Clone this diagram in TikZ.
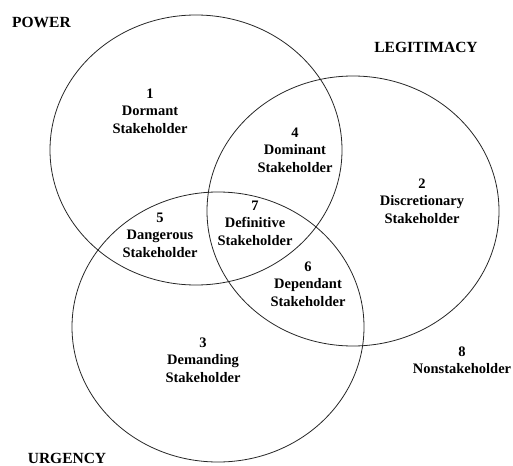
\documentclass[tikz,border=0pt]{standalone}
\usepackage{fontspec}
\setmainfont{Liberation Serif}
\usepackage{tikz}
\usetikzlibrary{shapes.geometric}

\begin{document}
\begin{tikzpicture}[x=1pt, y=-1pt,
  set/.style={draw=black!85, line width=0.8pt, ellipse, minimum width=292pt, minimum height=270pt},
  area/.style={align=center, font=\bfseries\fontsize{14.5}{17.5}\selectfont, inner sep=0pt},
  title/.style={font=\bfseries\fontsize{15.5}{17.5}\selectfont, inner sep=0pt}]
\useasboundingbox (0,0) rectangle (513,465);

% the three attribute sets
\node[set] (power)   at (196,150) {};
\node[set] (legit)   at (353,211) {};
\node[set] (urgency) at (218,327) {};

\node[title, anchor=west] (powerlbl)   at (12,22)  {POWER};
\node[title]              (legitlbl)   at (426,47) {LEGITIMACY};
\node[title]              (urgencylbl) at (67,458) {URGENCY};

% stakeholder classes
\node[area] (dormant)       at (150,111) {1\\Dormant\\Stakeholder};
\node[area] (discretionary) at (422,201) {2\\Discretionary\\Stakeholder};
\node[area] (demanding)     at (203,360) {3\\Demanding\\Stakeholder};
\node[area] (dominant)      at (295,150) {4\\Dominant\\Stakeholder};
\node[area] (dangerous)     at (160,235) {5\\Dangerous\\Stakeholder};
\node[area] (dependant)     at (308,284) {6\\Dependant\\Stakeholder};
\node[area] (definitive)    at (255,223) {7\\Definitive\\Stakeholder};
\node[area] (nonstake)      at (462,360) {8\\Nonstakeholder};
\end{tikzpicture}
\end{document}
